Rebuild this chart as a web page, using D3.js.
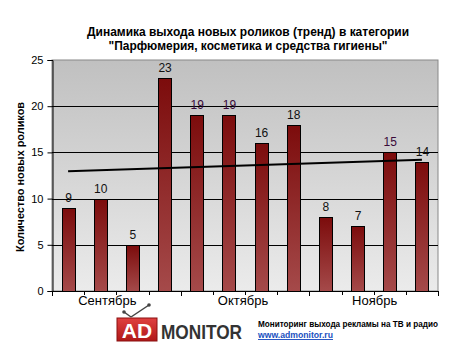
<!DOCTYPE html>
<html><head><meta charset="utf-8">
<script src="https://cdn.jsdelivr.net/npm/d3@7"></script>
<style>body{margin:0;background:#fff}svg{display:block;font-family:Arial,"Liberation Sans",sans-serif}</style>
</head><body>
<script>
const categories = ["w1","w2","w3","w4","w5","w6","w7","w8","w9","w10","w11","w12"];
const values = [9,10,5,23,19,19,16,18,8,7,15,14];
const months = ["Сентябрь","Октябрь","Ноябрь"];
const monthSpan = [4,4,4];
const yTicks = [0,5,10,15,20,25];
const titleLines = ["Динамика выхода новых роликов (тренд) в категории", "\"Парфюмерия, косметика и средства гигиены\""];

const W=470,H=348;
const m={l:52,r:438,t:60,b:291};
const svg=d3.select("body").append("svg").attr("width",W).attr("height",H);
const defs=svg.append("defs");
const bg=defs.append("linearGradient").attr("id","bg").attr("x1",0).attr("y1",0).attr("x2",0).attr("y2",1);
bg.append("stop").attr("offset","0%").attr("stop-color","#c0c0c0");
bg.append("stop").attr("offset","100%").attr("stop-color","#ebebeb");
const bar=defs.append("linearGradient").attr("id","bar").attr("x1",0).attr("y1",0).attr("x2",0).attr("y2",1);
bar.append("stop").attr("offset","0%").attr("stop-color","#7c0c0c");
bar.append("stop").attr("offset","100%").attr("stop-color","#a54a4a");

const x=d3.scaleBand().domain(categories).range([m.l,m.r]).paddingInner(0.6).paddingOuter(0.3);
const y=d3.scaleLinear().domain([0,25]).range([m.b,m.t]);

svg.append("rect").attr("x",m.l).attr("y",m.t).attr("width",m.r-m.l).attr("height",m.b-m.t)
  .attr("fill","url(#bg)").attr("stroke","#888").attr("stroke-width",1);

// gridlines
svg.append("g").selectAll("line").data(yTicks.filter(d=>d>0&&d<25)).join("line")
  .attr("x1",m.l).attr("x2",m.r).attr("y1",d=>Math.round(y(d))+0.5).attr("y2",d=>Math.round(y(d))+0.5)
  .attr("stroke","#000").attr("stroke-width",1);

// bars
svg.append("g").selectAll("rect").data(values).join("rect")
  .attr("x",(d,i)=>Math.round(x(categories[i]))+0.5).attr("y",d=>Math.round(y(d))+0.5)
  .attr("width",Math.round(x.bandwidth())).attr("height",d=>Math.round(y(0))-Math.round(y(d)))
  .attr("fill","url(#bar)").attr("stroke","#000").attr("stroke-width",1);

// labels
svg.append("g").selectAll("text").data(values).join("text")
  .attr("x",(d,i)=>x(categories[i])+x.bandwidth()/2+0.5).attr("y",d=>y(d)-6)
  .attr("text-anchor","middle").attr("font-size",12).attr("fill",(d,i)=>[4,5,10].includes(i)?"#3a0a3a":"#111")
  .text(d=>d);

// trend (linear regression)
const n=values.length, xs=values.map((d,i)=>i+1);
const mx=d3.mean(xs), my=d3.mean(values);
const slope=d3.sum(xs.map((xx,i)=>(xx-mx)*(values[i]-my)))/d3.sum(xs.map(xx=>(xx-mx)**2));
const icpt=my-slope*mx;
const cx=i=>x(categories[i])+x.bandwidth()/2;
svg.append("line").attr("x1",cx(0)).attr("x2",cx(n-1))
  .attr("y1",y(icpt+slope*1)).attr("y2",y(icpt+slope*n))
  .attr("stroke","#000").attr("stroke-width",2);

// y axis
const ya=svg.append("g").attr("transform",`translate(${m.l+0.5},0)`)
  .call(d3.axisLeft(y).tickValues(yTicks).tickSize(5).tickPadding(4));
ya.select(".domain").attr("stroke","#000");
ya.selectAll("text").attr("font-size",11).attr("font-family","Arial,'Liberation Sans',sans-serif").attr("fill","#000");

// x axis
const xg=svg.append("g");
xg.append("line").attr("x1",m.l).attr("x2",m.r).attr("y1",m.b+0.5).attr("y2",m.b+0.5).attr("stroke","#000");
let acc=0; const bounds=[0];
monthSpan.forEach(s=>{acc+=s;bounds.push(acc);});
d3.range(0,n+1).forEach(i=>{
  const xx=Math.round(m.l+i*(m.r-m.l)/n)+0.5;
  const major=bounds.includes(i);
  xg.append("line").attr("x1",xx).attr("x2",xx).attr("y1",m.b).attr("y2",m.b+(major?5:4)).attr("stroke","#000");
});
const monthNudge=[-9,-2,1];
months.forEach((mo,k)=>{
  const x0=m.l+bounds[k]*(m.r-m.l)/n, x1=m.l+bounds[k+1]*(m.r-m.l)/n;
  xg.append("text").attr("x",(x0+x1)/2+monthNudge[k]).attr("y",305).attr("text-anchor","middle").attr("font-size",13).attr("fill","#000").text(mo);
});

// title
const tLen=[322,279];
svg.append("g").selectAll("text").data(titleLines).join("text")
  .attr("x",248).attr("y",(d,i)=>36+i*14).attr("text-anchor","middle")
  .attr("font-size",12.5).attr("font-weight","bold").attr("fill","#000")
  .attr("textLength",(d,i)=>tLen[i]).attr("lengthAdjust","spacingAndGlyphs").text(d=>d);

// y label
svg.append("text").attr("transform","translate(24,177) rotate(-90)").attr("text-anchor","middle")
  .attr("font-size",11.5).attr("font-weight","bold").attr("fill","#000")
  .attr("textLength",150).attr("lengthAdjust","spacingAndGlyphs").text("Количество новых роликов");

// logo
const lg=svg.append("g");
lg.append("line").attr("x1",124).attr("y1",312).attr("x2",131).attr("y2",317).attr("stroke","#444").attr("stroke-width",1.5);
lg.append("line").attr("x1",131).attr("y1",317).attr("x2",149).attr("y2",305).attr("stroke","#444").attr("stroke-width",1.5);
lg.append("circle").attr("cx",124).attr("cy",312).attr("r",1.8).attr("fill","#444");
lg.append("circle").attr("cx",149).attr("cy",305).attr("r",1.8).attr("fill","#444");
const rg=defs.append("linearGradient").attr("id","lgr").attr("x1",0).attr("y1",0).attr("x2",0).attr("y2",1);
rg.append("stop").attr("offset","0%").attr("stop-color","#e04040");
rg.append("stop").attr("offset","100%").attr("stop-color","#b01818");
lg.append("rect").attr("x",117).attr("y",318).attr("width",40).attr("height",23).attr("fill","url(#lgr)").attr("stroke","#8a1010");
lg.append("text").attr("x",137).attr("y",338).attr("text-anchor","middle").attr("font-size",21).attr("font-weight","bold").attr("fill","#fff").text("AD");
lg.append("text").attr("x",161).attr("y",339).attr("font-size",20).attr("font-weight","bold").attr("fill","#333").attr("textLength",81).attr("lengthAdjust","spacingAndGlyphs").text("MONITOR");
svg.append("text").attr("x",258).attr("y",327).attr("font-size",8.6).attr("font-weight","bold").attr("fill","#000")
  .attr("textLength",180).attr("lengthAdjust","spacingAndGlyphs").text("Мониторинг выхода рекламы на ТВ и радио");
svg.append("text").attr("x",258).attr("y",338).attr("font-size",9.5).attr("font-weight","bold").attr("fill","#2050c0").attr("text-decoration","underline")
  .attr("textLength",75).attr("lengthAdjust","spacingAndGlyphs").text("www.admonitor.ru");
</script>
</body></html>
